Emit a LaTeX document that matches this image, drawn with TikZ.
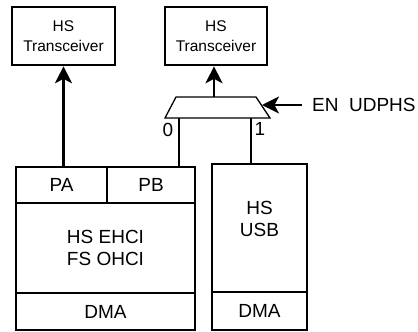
\documentclass[tikz,border=0pt]{standalone}
\usepackage{fontspec}
\setmainfont{Liberation Sans}
\usetikzlibrary{arrows.meta}
\begin{document}
\begin{tikzpicture}[x=1pt,y=-1pt,
  box/.style={draw, line width=2pt, inner sep=0pt, font=\fontsize{19}{22}\selectfont, align=center},
  tbox/.style={draw, line width=2.6pt, inner sep=0pt, font=\fontsize{15.5}{20}\selectfont, align=center, minimum width=103pt, minimum height=58pt},
  arr/.style={line width=2.2pt, -{Stealth[length=17pt,width=17pt,inset=4.5pt]}},
  conn/.style={line width=1.5pt},
  lbl/.style={font=\fontsize{19}{22}\selectfont, inner sep=0pt}
]
\useasboundingbox (0,0) rectangle (418,332);
% transceivers
\node[tbox] (t1) at (63.5,36) {HS\\Transceiver};
\node[tbox, minimum width=102pt] (t2) at (216,36) {HS\\Transceiver};
% left block
\node[box, minimum width=91pt, minimum height=36pt] (pa) at (61.5,185) {PA};
\node[box, minimum width=88pt, minimum height=36pt] (pb) at (151,185) {PB};
\node[box, minimum width=179pt, minimum height=90pt] (ehci) at (105.5,248) {HS EHCI\\FS OHCI};
\node[box, minimum width=179pt, minimum height=37pt] (dma1) at (105.5,311.5) {DMA};
% right block
\node[box, minimum width=95pt, minimum height=128pt] (usb) at (259.5,228) {};
\node[lbl, align=center] (usbt) at (259.5,219) {HS\\USB};
\node[box, minimum width=95pt, minimum height=38pt] (dma2) at (259.5,311) {DMA};
% mux
\coordinate (m1) at (176,97);
\coordinate (m2) at (256,97);
\coordinate (m3) at (270,118);
\coordinate (m4) at (165,118);
\draw[line width=1.3pt] (m1) -- (m2) -- (m3) -- (m4) -- cycle;
\coordinate (mo) at (214,97);
\coordinate (i0) at (179,118);
\coordinate (i1) at (251,118);
\coordinate (entip) at (262,105);
\node[lbl, anchor=west] (enl) at (312,105) {EN\ \ UDPHS};
\node[lbl] (l0) at (168,130) {0};
\node[lbl] (l1) at (260,129) {1};
% connectors
\draw[conn] (i0) -- (i0 |- pb.north);
\draw[conn] (i1) -- (i1 |- usb.north);
\draw[arr] (t1.south |- pa.north) -- (t1.south);
\draw[arr] (mo) -- (mo |- t2.south);
\draw[arr] ([xshift=-10pt]enl.west) -- (entip);
\end{tikzpicture}
\end{document}
